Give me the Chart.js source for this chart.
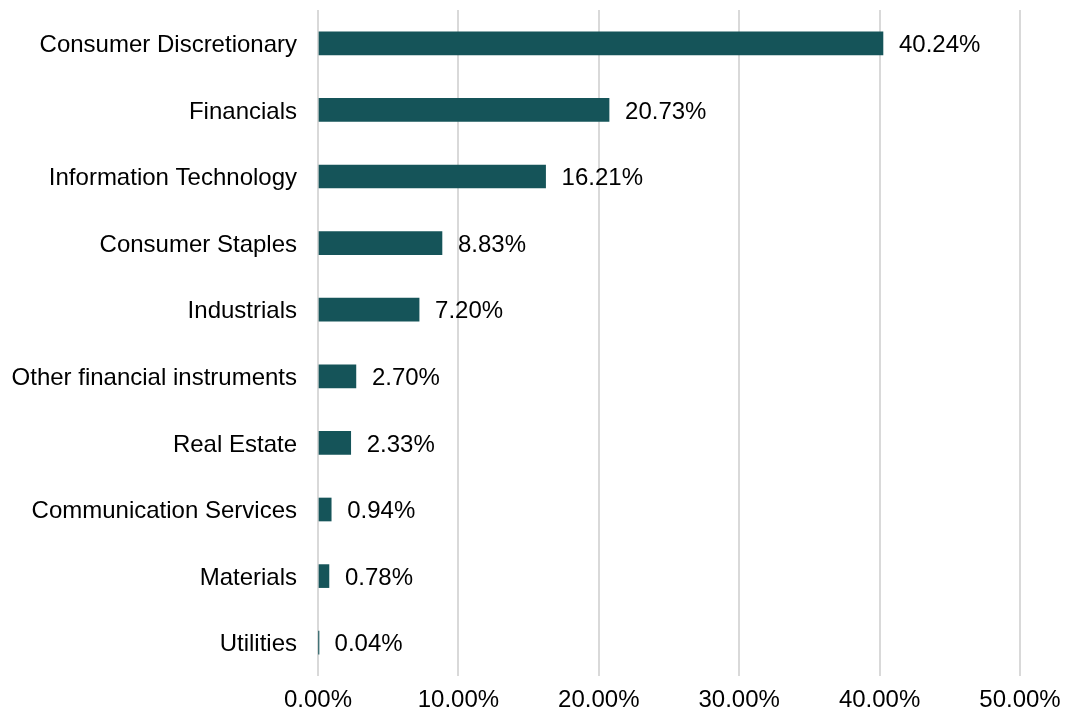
<!DOCTYPE html>
<html>
<head>
<meta charset="utf-8">
<script src="https://cdn.jsdelivr.net/npm/chart.js@4.4.0/dist/chart.umd.min.js"></script>
<style>
  html, body { margin: 0; padding: 0; background: #fff; }
  #wrap { width: 1079px; height: 715px; position: relative; }
</style>
</head>
<body>
<div id="wrap"><canvas id="sectorChart"></canvas></div>
<script>
// Dados do gráfico
const sectors = [
    'Consumer Discretionary',
    'Financials',
    'Information Technology',
    'Consumer Staples',
    'Industrials',
    'Other financial instruments',
    'Real Estate',
    'Communication Services',
    'Materials',
    'Utilities'
];
const weights = [40.24, 20.73, 16.21, 8.83, 7.20, 2.70, 2.33, 0.94, 0.78, 0.04];
const xTicks = [0, 10, 20, 30, 40, 50];

const fontFamily = '"Liberation Sans", Arial, sans-serif';

// Rótulos de valor no fim de cada barra
const valueLabels = {
    id: 'valueLabels',
    afterDatasetsDraw(chart) {
        const ctx = chart.ctx;
        const meta = chart.getDatasetMeta(0);
        ctx.save();
        ctx.font = '24px ' + fontFamily;
        ctx.fillStyle = '#000';
        ctx.textAlign = 'left';
        ctx.textBaseline = 'middle';
        meta.data.forEach((bar, i) => {
            ctx.fillText(weights[i].toFixed(2) + '%', bar.x + 16, bar.y + 2);
        });
        ctx.restore();
    }
};

const ctx = document.getElementById('sectorChart').getContext('2d');
const sectorChart = new Chart(ctx, {
    type: 'bar',
    data: {
        labels: sectors,
        datasets: [{
            data: weights,
            backgroundColor: '#155459',
            borderWidth: 0,
            barThickness: 23
        }]
    },
    options: {
        indexAxis: 'y',
        responsive: true,
        maintainAspectRatio: false,
        animation: false,
        layout: {
            padding: { top: 10, right: 59, bottom: 0, left: 0 }
        },
        plugins: {
            legend: { display: false },
            tooltip: { enabled: false }
        },
        scales: {
            x: {
                min: 0,
                max: 50,
                afterBuildTicks(scale) {
                    scale.ticks = xTicks.map(v => ({ value: v }));
                },
                afterFit(scale) {
                    scale.height = 39;
                },
                grid: {
                    color: '#d9d9d9',
                    lineWidth: 2,
                    drawTicks: false
                },
                border: { display: false },
                ticks: {
                    padding: 10,
                    color: '#000',
                    font: { family: fontFamily, size: 24 },
                    callback: value => value.toFixed(2) + '%'
                }
            },
            y: {
                afterFit(scale) {
                    scale.width = 318;
                    scale.paddingTop = 0;
                    scale.paddingBottom = 0;
                },
                grid: { display: false, drawTicks: false },
                border: { display: false },
                ticks: {
                    padding: 21,
                    labelOffset: 2,
                    color: '#000',
                    font: { family: fontFamily, size: 24 }
                }
            }
        }
    },
    plugins: [valueLabels]
});
</script>
</body>
</html>
